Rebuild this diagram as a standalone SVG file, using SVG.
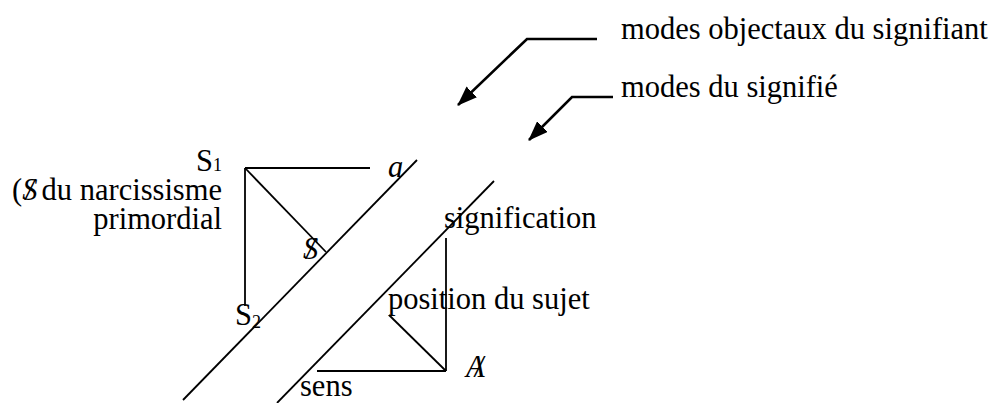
<svg xmlns="http://www.w3.org/2000/svg" width="998" height="403" viewBox="0 0 998 403">
<style>
  .t { font-family: "Liberation Serif", "DejaVu Serif", serif; font-size: 30.5px; fill: #000; }
  .it { font-style: italic; }
  .sub { font-size: 18px; }
  .ln { stroke: #000; stroke-width: 1.8; fill: none; }
  .ar { stroke: #000; stroke-width: 2.6; fill: none; }
</style>
<defs>
  <marker id="head" viewBox="0 0 20 15" refX="19" refY="7.5" markerWidth="20" markerHeight="15" markerUnits="userSpaceOnUse" orient="auto">
    <path d="M0,0 L20,7.5 L0,15 z" fill="#000"/>
  </marker>
</defs>
<rect width="998" height="403" fill="#fff"/>
<g id="connectors">
  <line class="ln" x1="417" y1="160" x2="183" y2="400"/>
  <line class="ln" x1="494" y1="181" x2="277" y2="403"/>
  <line class="ln" x1="245" y1="168" x2="370" y2="168"/>
  <line class="ln" x1="245" y1="168" x2="245" y2="306"/>
  <line class="ln" x1="245" y1="168" x2="326" y2="252"/>
  <line class="ln" x1="446" y1="238" x2="446" y2="371"/>
  <line class="ln" x1="317" y1="371" x2="446" y2="371"/>
  <line class="ln" x1="389" y1="315" x2="446" y2="371"/>
  <path class="ar" d="M597,39 H527 L458,105" marker-end="url(#head)"/>
  <path class="ar" d="M613,97 H572 L529,140" marker-end="url(#head)"/>
</g>
<g id="label-modes-objectaux"><text class="t" x="621" y="39">modes objectaux du signifiant</text></g>
<g id="label-modes-signifie"><text class="t" x="621" y="97">modes du signifié</text></g>
<g id="node-S1"><text class="t" x="222" y="171" text-anchor="end">S<tspan class="sub">1</tspan></text></g>
<g id="label-narcissisme">
  <text class="t" x="222" y="200" text-anchor="end">(<tspan class="it">S</tspan><tspan class="it" dx="-12">/</tspan> du narcissisme</text>
  <text class="t" x="222" y="229" text-anchor="end">primordial</text>
</g>
<g id="node-a"><text class="t it" x="388" y="177">a</text></g>
<g id="node-S-barred"><text class="t it" x="303" y="259">S<tspan dx="-12">/</tspan></text></g>
<g id="node-S2"><text class="t" x="235" y="325">S<tspan class="sub" dy="3">2</tspan></text></g>
<g id="node-signification"><text class="t" x="444" y="228">signification</text></g>
<g id="node-position"><text class="t" x="388" y="309">position du sujet</text></g>
<g id="node-A-barred"><text class="t it" x="466" y="377">A<tspan dx="-10">/</tspan></text></g>
<g id="node-sens"><text class="t" x="300" y="396">sens</text></g>
</svg>
